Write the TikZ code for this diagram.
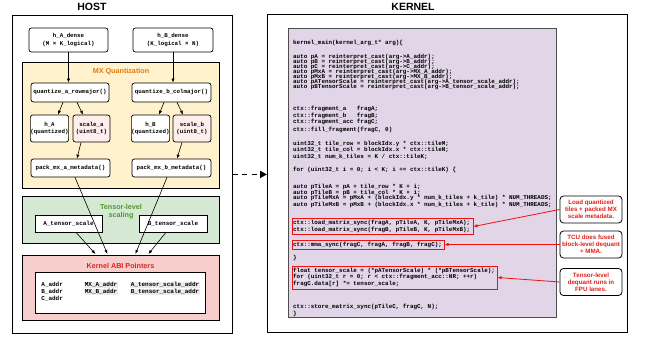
\documentclass[tikz,border=0pt]{standalone}
\usepackage{fontspec}
\setmainfont{Liberation Sans}
\newfontfamily\codefont{Liberation Mono}
\usetikzlibrary{arrows.meta}

\definecolor{mxfill}{HTML}{FFF2CC}
\definecolor{mxtitle}{HTML}{E07A10}
\definecolor{tsfill}{HTML}{D5E8D4}
\definecolor{tstitle}{HTML}{4E9A2A}
\definecolor{abifill}{HTML}{F8CECC}
\definecolor{abititle}{HTML}{E3201B}
\definecolor{scalefill}{HTML}{FFEEEE}
\definecolor{codefill}{HTML}{E1D5E7}
\definecolor{codeborder}{HTML}{4D4D4D}
\definecolor{hlred}{HTML}{F01010}
\definecolor{notered}{HTML}{E3201B}
\definecolor{addrbg}{HTML}{EBEBEB}

\tikzset{
  frame/.style={draw=black, line width=0.9pt, fill=white, anchor=north west, inner sep=0pt},
  panel/.style={draw=black, line width=0.8pt, anchor=north west, inner sep=0pt},
  fnbox/.style={draw=black, rounded corners=2.5pt, fill=white, line width=0.7pt,
    font=\codefont\bfseries\fontsize{5.8}{7.8}\selectfont, align=center, inner sep=0pt},
  sqbox/.style={draw=black, fill=white, line width=0.7pt,
    font=\codefont\bfseries\fontsize{6}{7}\selectfont, inner sep=0pt},
  paneltitle/.style={font=\bfseries\fontsize{7.2}{8.6}\selectfont, align=center},
  bigtitle/.style={font=\bfseries\fontsize{10.5}{12}\selectfont},
  codeline/.style={anchor=west, inner sep=0pt, font=\codefont\bfseries\fontsize{5.9}{6}\selectfont},
  addr/.style={anchor=west, inner sep=0.6pt, font=\codefont\bfseries\fontsize{6}{6}\selectfont},
  addrhl/.style={addr, fill=addrbg},
  arr/.style={-{Latex[length=4pt,width=3.2pt]}, line width=0.6pt},
  dasharrow/.style={-{Triangle[length=7pt,width=7pt]}, line width=1.8pt, dash pattern=on 5pt off 4.5pt},
  hlbox/.style={draw=hlred, line width=1pt, inner sep=0pt},
  note/.style={draw=black, fill=white, rounded corners=3.5pt, line width=0.8pt, text=notered,
    font=\bfseries\fontsize{6.2}{7}\selectfont, align=center,
    minimum width=62pt, minimum height=27pt, inner sep=0pt},
  redarr/.style={draw=hlred, -{Latex[length=4pt,width=3.5pt]}, line width=0.8pt}
}

\begin{document}
\begin{tikzpicture}[x=1pt, y=-1pt]
\useasboundingbox (0,0) rectangle (645,339);

% ---------------- host side ----------------
\node[bigtitle] (hosttitle) at (92,7) {HOST};
\node[frame, minimum width=220pt, minimum height=318pt] (host) at (12,15) {};

\node[fnbox, minimum width=79pt, minimum height=24pt] (hAd) at (68.5,40) {h\_A\_dense\\(M × K\_logical)};
\node[fnbox, minimum width=80pt, minimum height=24pt] (hBd) at (173,40) {h\_B\_dense\\(K\_logical × N)};

% MX quantization panel
\node[panel, fill=mxfill, minimum width=197pt, minimum height=126pt] (mx) at (22,62) {};
\node[paneltitle, text=mxtitle] (mxt) at (121,72) {MX Quantization};

\node[fnbox, minimum width=78pt, minimum height=19pt] (qa) at (70,92.5) {quantize\_a\_rowmajor()};
\node[fnbox, minimum width=79pt, minimum height=19pt] (qb) at (171.5,92.5) {quantize\_b\_colmajor()};

\node[fnbox, minimum width=37pt, minimum height=27pt] (hA) at (49.5,128.5) {h\_A\\(quantized)};
\node[fnbox, fill=scalefill, minimum width=37pt, minimum height=27pt] (sa) at (91.5,128.5) {scale\_a\\(uint8\_t)};
\node[fnbox, minimum width=37pt, minimum height=27pt] (hB) at (150.5,128.5) {h\_B\\(quantized)};
\node[fnbox, fill=scalefill, minimum width=38pt, minimum height=27pt] (sb) at (192,128.5) {scale\_b\\(uint8\_t)};

\node[fnbox, minimum width=79pt, minimum height=18pt] (pa) at (70.5,168) {pack\_mx\_a\_metadata()};
\node[fnbox, minimum width=79pt, minimum height=18pt] (pb) at (171.5,168) {pack\_mx\_b\_metadata()};

% tensor-level scaling panel
\node[panel, fill=tsfill, minimum width=197pt, minimum height=47pt] (ts) at (22,196) {};
\node[paneltitle, text=tstitle] (tst) at (121,211.5) {Tensor-level\\scaling};
\node[sqbox, minimum width=67pt, minimum height=17pt] (ats) at (68.5,223.5) {A\_tensor\_scale};
\node[sqbox, minimum width=68pt, minimum height=17pt] (bts) at (173,223.5) {B\_tensor\_scale};

% kernel ABI panel
\node[panel, fill=abifill, minimum width=197pt, minimum height=65pt] (abi) at (22,255) {};
\node[paneltitle, text=abititle] (abit) at (120.5,266) {Kernel ABI Pointers};
\node[sqbox, anchor=north west, minimum width=170pt, minimum height=41pt] (abiin) at (35,272) {};
\node[addr] (aaddr) at (40.5,285) {A\_addr};
\node[addr] (baddr) at (40.5,292) {B\_addr};
\node[addr] (caddr) at (40.5,299) {C\_addr};
\node[addrhl] (mxa) at (84,285) {MX\_A\_addr};
\node[addrhl] (mxb) at (84,292) {MX\_B\_addr};
\node[addrhl] (tsa) at (130,285) {A\_tensor\_scale\_addr};
\node[addrhl] (tsb) at (130,292) {B\_tensor\_scale\_addr};

% host data flow
\draw[arr] (hAd.south) -- (hAd.south |- qa.north);
\draw[arr] (hBd.south) -- (hBd.south |- qb.north);
\draw[arr] ([xshift=-7pt]qa.south) -- ([xshift=8.5pt]hA.north);
\draw[arr] ([xshift=7pt]qa.south) -- ([xshift=-8.5pt]sa.north);
\draw[arr] ([xshift=-10.5pt]sa.south) -- ([xshift=6.5pt]pa.north);
\draw[arr] ([xshift=-7.5pt]qb.south) -- ([xshift=8.5pt]hB.north);
\draw[arr] ([xshift=5.5pt]qb.south) -- ([xshift=-9pt]sb.north);
\draw[arr] ([xshift=-10pt]sb.south) -- ([xshift=5.5pt]pb.north);
\draw[arr] ([xshift=4.5pt]pa.south) -- ([xshift=-13.5pt,yshift=1pt]abi.north);
\draw[arr] ([xshift=-4.5pt]pb.south) -- ([xshift=14.5pt,yshift=1pt]abi.north);
\draw[arr] ([xshift=7.5pt]ats.south) -- ([xshift=-25.5pt,yshift=1pt]abi.north);
\draw[arr] ([xshift=-7pt]bts.south) -- ([xshift=27.5pt,yshift=1pt]abi.north);

% ---------------- kernel side ----------------
\node[bigtitle] (kerneltitle) at (413,7) {KERNEL};
\node[frame, minimum width=360pt, minimum height=318pt] (kernel) at (267,14) {};
\node[panel, draw=codeborder, line width=0.9pt, fill=codefill, minimum width=268pt, minimum height=289pt] (code) at (288,28) {};

% highlighted code regions
\node[hlbox, minimum width=181pt, minimum height=15pt] (loadhl) at (382.5,226.5) {};
\node[hlbox, minimum width=152pt, minimum height=8.5pt] (mmahl) at (368,245) {};
\node[hlbox, minimum width=205pt, minimum height=23pt] (scalehl) at (394.5,277.5) {};

% kernel source
\node[codeline] (k01) at (293,43) {kernel\_main(kernel\_arg\_t* arg)\{};
\node[codeline] (k02) at (293,56.5) {auto pA = reinterpret\_cast(arg->A\_addr);};
\node[codeline] (k03) at (293,61.5) {auto pB = reinterpret\_cast(arg->B\_addr);};
\node[codeline] (k04) at (293,66.5) {auto pC = reinterpret\_cast(arg->C\_addr);};
\node[codeline] (k05) at (293,71.5) {auto pMxA = reinterpret\_cast(arg->MX\_A\_addr);};
\node[codeline] (k06) at (293,76.5) {auto pMxB = reinterpret\_cast(arg->MX\_B\_addr);};
\node[codeline] (k07) at (293,81.5) {auto pATensorScale = reinterpret\_cast(arg->A\_tensor\_scale\_addr);};
\node[codeline] (k08) at (293,86.5) {auto pBTensorScale = reinterpret\_cast(arg->B\_tensor\_scale\_addr);};
\node[codeline] (k09) at (293,109) {ctx::fragment\_a~~~fragA;};
\node[codeline] (k10) at (293,115.5) {ctx::fragment\_b~~~fragB;};
\node[codeline] (k11) at (293,122) {ctx::fragment\_acc fragC;};
\node[codeline] (k12) at (293,130) {ctx::fill\_fragment(fragC, 0)};
\node[codeline] (k13) at (293,143.5) {uint32\_t tile\_row = blockIdx.y * ctx::tileM;};
\node[codeline] (k14) at (293,150) {uint32\_t tile\_col = blockIdx.x * ctx::tileN;};
\node[codeline] (k15) at (293,156.5) {uint32\_t num\_k\_tiles = K / ctx::tileK;};
\node[codeline] (k16) at (293,170) {for (uint32\_t i = 0; i < K; i += ctx::tileK) \{};
\node[codeline] (k17) at (293,187) {auto pTileA = pA + tile\_row * K + i;};
\node[codeline] (k18) at (293,192.5) {auto pTileB = pB + tile\_col * K + i;};
\node[codeline] (k19) at (293,198) {auto pTileMxA = pMxA + (blockIdx.y * num\_k\_tiles + k\_tile) * NUM\_THREADS;};
\node[codeline] (k20) at (293,205) {auto pTileMxB = pMxB + (blockIdx.x * num\_k\_tiles + k\_tile) * NUM\_THREADS;};
\node[codeline] (k21) at (293,223) {ctx::load\_matrix\_sync(fragA, pTileA, K, pTileMxA);};
\node[codeline] (k22) at (293,229.5) {ctx::load\_matrix\_sync(fragB, pTileB, K, pTileMxB);};
\node[codeline] (k23) at (293,244.5) {ctx::mma\_sync(fragC, fragA, fragB, fragC);};
\node[codeline] (k24) at (293,258) {\}};
\node[codeline] (k25) at (293,270.5) {float tensor\_scale = (*pATensorScale) * (*pBTensorScale);};
\node[codeline] (k26) at (293,277) {for (uint32\_t r = 0; r < ctx::fragment\_acc::NR; ++r)};
\node[codeline] (k27) at (293,283.5) {fragC.data[r] *= tensor\_scale;};
\node[codeline] (k28) at (293,307) {ctx::store\_matrix\_sync(pTileC, fragC, N);};
\node[codeline] (k29) at (293,313.5) {\}};

% annotations
\node[note] (n1) at (591,209.5) {Load quantized\\tiles + packed MX\\scale metadata.};
\node[note] (n2) at (591,244.5) {TCU does fused\\block-level dequant\\+ MMA.};
\node[note] (n3) at (591,282) {Tensor-level\\dequant runs in\\FPU lanes.};
\draw[redarr] (n1.west) -- (loadhl.east);
\draw[redarr] (n2.west) -- (n2.west -| mmahl.east);
\draw[redarr] (n3.west) -- (scalehl.east);

% host to kernel hand-off
\draw[dasharrow] (host.east) -- (host.east -| kernel.west);
\end{tikzpicture}
\end{document}
